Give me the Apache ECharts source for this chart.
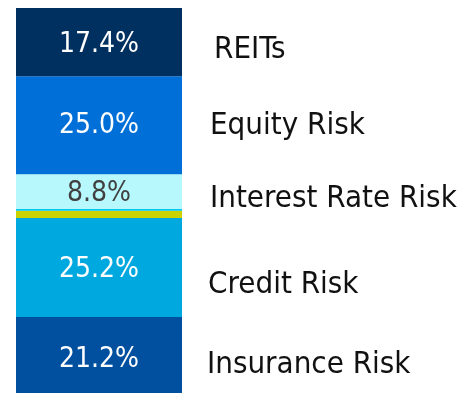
<!DOCTYPE html>
<html>
<head>
<meta charset="utf-8">
<style>
  html, body { margin: 0; padding: 0; background: #ffffff; overflow: hidden; }
  /* the bar runs a little past the bottom edge of the window */
  #chart { width: 466px; height: 400px; }
</style>
<script src="https://cdn.jsdelivr.net/npm/echarts@6/dist/echarts.min.js"></script>
</head>
<body>
<div id="chart"></div>
<script>
// Risk allocation, stacked bottom to top
const segmentNames = ['Insurance Risk', 'Credit Risk', 'Other', 'Other (line)', 'Interest Rate Risk', 'Equity Risk', 'REITs'];
const segmentValues = [21.2, 25.2, 1.9, 0.5, 8.8, 25.0, 17.4];
const showValue = [true, true, false, false, true, true, true];
const showName = [true, true, false, false, true, true, true];

const segmentColors = ['#00509f', '#00a8e0', '#cad300', '#00c8f0', '#b6f8fc', '#0070d8', '#00305f'];
const valueTextColors = ['#ffffff', '#ffffff', '#ffffff', '#ffffff', '#404040', '#ffffff', '#ffffff'];
const valueOffsets = [[0, 1], [0, 2], [0, 0], [0, 0], [0, 2], [0, 1], [0, 3]];
const nameOffsets = [[20, 6.5], [21, 17], [0, 0], [0, 0], [23, 7], [23, 0.5], [27, 7.5]];

const FONT = '"DejaVu Sans Condensed", "DejaVu Sans", sans-serif';

const chart = echarts.init(document.getElementById('chart'), null, { renderer: 'canvas' });

const series = [];
segmentValues.forEach((v, i) => {
  // visible block with its percentage
  series.push({
    name: segmentNames[i],
    type: 'bar',
    stack: 'mix',
    barWidth: 166,
    barGap: '-100%',
    data: [v],
    itemStyle: { color: segmentColors[i] },
    silent: true,
    label: {
      show: showValue[i],
      position: 'inside',
      offset: valueOffsets[i],
      formatter: (p) => p.value.toFixed(1) + '%',
      color: valueTextColors[i],
      fontFamily: FONT,
      fontSize: 28
    }
  });
});
segmentValues.forEach((v, i) => {
  // transparent twin carrying the category name to the right
  series.push({
    name: segmentNames[i] + ' label',
    type: 'bar',
    stack: 'names',
    barWidth: 166,
    barGap: '-100%',
    data: [v],
    itemStyle: { color: 'rgba(0,0,0,0)' },
    silent: true,
    z: 5,
    label: {
      show: showName[i],
      position: 'insideLeft',
      offset: [166 + nameOffsets[i][0], nameOffsets[i][1]],
      formatter: () => segmentNames[i],
      color: '#111111',
      fontFamily: FONT,
      fontSize: 31
    }
  });
});

chart.setOption({
  animation: false,
  grid: { left: 16, top: 8, width: 166, height: 392 },
  xAxis: { type: 'category', data: ['Allocation'], show: false },
  yAxis: { type: 'value', min: 0, max: 100, show: false },
  series: series
});
</script>
</body>
</html>
